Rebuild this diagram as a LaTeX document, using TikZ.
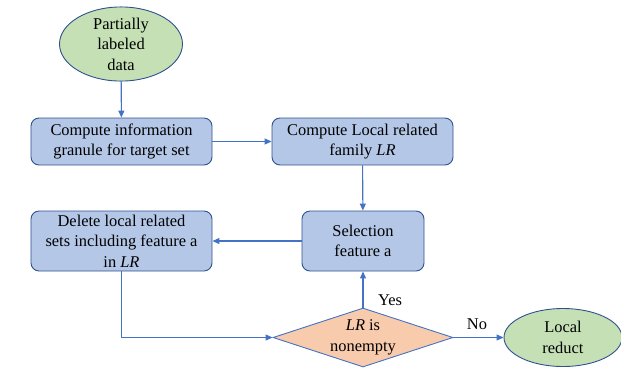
\documentclass[tikz,border=0pt]{standalone}
\usepackage{fontspec}
\setmainfont{Liberation Serif}
\usetikzlibrary{shapes.geometric,arrows.meta}
\definecolor{boxfill}{HTML}{B4C7E7}
\definecolor{boxline}{HTML}{2F528F}
\definecolor{ellfill}{HTML}{C5E0B4}
\definecolor{diafill}{HTML}{F8CBAD}
\definecolor{arrowc}{HTML}{4472C4}
\tikzset{
  base/.style={font=\rmfamily\fontsize{16.5}{20.5}\selectfont, align=center, inner sep=0pt, line width=0.9bp},
  procbox/.style={base, draw=boxline, fill=boxfill, rounded corners=8bp, minimum width=181bp, minimum height=47bp},
  termell/.style={base, ellipse, draw=boxline, fill=ellfill},
  decision/.style={base, diamond, draw=arrowc, fill=diafill, aspect=3.05},
  conn/.style={draw=arrowc, line width=1.1bp, -{Triangle[length=7bp,width=6bp]}},
  lbl/.style={font=\rmfamily\fontsize{16.5}{20.5}\selectfont, inner sep=0pt}
}
\begin{document}
\begin{tikzpicture}[x=1bp,y=-1bp]
\useasboundingbox (0,0) rectangle (621,367);
\node[termell, minimum width=123bp, minimum height=74bp] (start) at (121,44) {Partially\\labeled\\data};
\node[procbox] (gran) at (121.5,141.5) {Compute information\\granule for target set};
\node[procbox] (fam) at (362.5,141.5) {Compute Local related\\family \textit{LR}};
\node[procbox, minimum width=122bp, minimum height=60bp] (sel) at (363,241) {Selection\\feature a};
\node[procbox, minimum height=60bp] (del) at (121.5,241) {Delete local related\\sets including feature a\\in \textit{LR}};
\node[decision, minimum width=180bp, minimum height=59bp] (dec) at (363,337.5) {\textit{LR} is\\nonempty};
\node[termell, minimum width=118bp, minimum height=58bp] (end) at (563,337.5) {Local\\reduct};
\node[lbl] (yes) at (390,300) {Yes};
\node[lbl] (no) at (477,324) {No};
\draw[conn] (start) -- (gran);
\draw[conn] (gran) -- (fam);
\draw[conn] (fam) -- (sel);
\draw[conn] (sel) -- (del);
\draw[conn] (del.south) |- (dec.west);
\draw[conn] (dec.north) -- (sel.south);
\draw[conn] (dec.east) -- (end.west);
\end{tikzpicture}
\end{document}
